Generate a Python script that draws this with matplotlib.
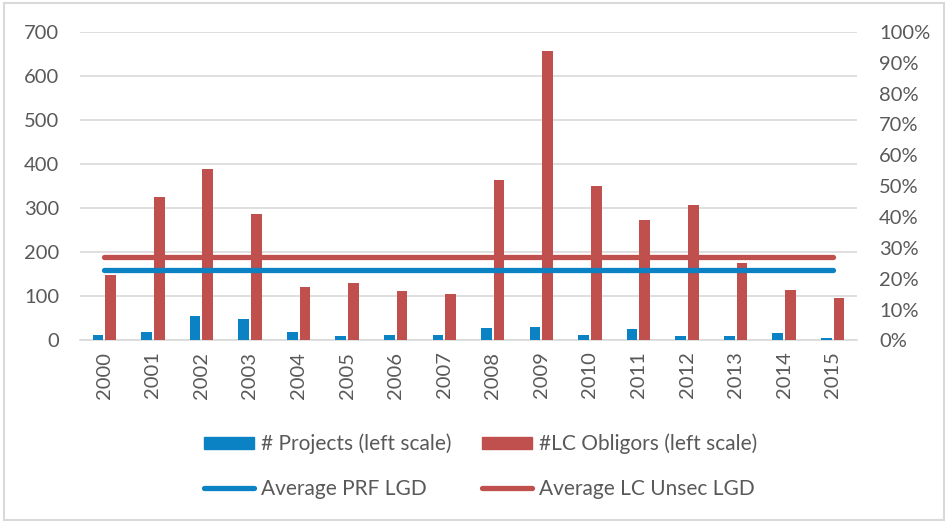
import numpy as np
import matplotlib
matplotlib.use("Agg")
import matplotlib.pyplot as plt
from matplotlib.patches import Patch, Rectangle
from matplotlib.lines import Line2D
from matplotlib.ticker import PercentFormatter

plt.rcParams['font.family'] = ['Lato', 'DejaVu Sans']

years = ["2000", "2001", "2002", "2003", "2004", "2005", "2006", "2007",
         "2008", "2009", "2010", "2011", "2012", "2013", "2014", "2015"]
projects = [13, 19, 56, 48, 19, 10, 13, 13, 28, 31, 13, 25, 10, 10, 16, 5]
lc_obligors = [148, 326, 389, 287, 122, 130, 113, 105, 364, 657, 350, 273, 307, 176, 115, 96]
avg_prf_lgd = 23.0      # %
avg_lc_unsec_lgd = 27.0  # %

blue = '#0B82C4'
red = '#C0504D'
grey_txt = '#595959'

fig = plt.figure(figsize=(9.48, 5.23), dpi=100)
ax1 = fig.add_axes([0.0844, 0.349, 0.8196, 0.590])

x = np.arange(len(years))
w = 0.22
ax1.bar(x - 0.13, projects, width=w, color=blue, zorder=3)
ax1.bar(x + 0.13, lc_obligors, width=w, color=red, zorder=3)
ax1.set_xlim(-0.5, len(years) - 0.5)
ax1.set_ylim(0, 700)
ax1.set_yticks(range(0, 701, 100))
ax1.yaxis.grid(True, color='#D9D9D9', linewidth=1.2, zorder=0)
ax1.set_axisbelow(True)
ax1.set_xticks(x)
ax1.set_xticklabels(years, rotation=90)

# right axis with the average lines
ax2 = ax1.twinx()
ax2.plot([x[0], x[-1]], [avg_lc_unsec_lgd] * 2, color=red, linewidth=3.8,
         solid_capstyle='round', zorder=4)
ax2.plot([x[0], x[-1]], [avg_prf_lgd] * 2, color=blue, linewidth=3.8,
         solid_capstyle='round', zorder=4)
ax2.set_ylim(0, 100)
ax2.set_yticks(range(0, 101, 10))
ax2.yaxis.set_major_formatter(PercentFormatter(decimals=0))

for ax in (ax1, ax2):
    for s in ax.spines.values():
        s.set_visible(False)
    ax.tick_params(length=0, labelsize=14.5, colors=grey_txt)
ax1.tick_params(axis='y', pad=15)
ax1.tick_params(axis='x', pad=8)
ax2.tick_params(axis='y', pad=16)
ax1.spines['bottom'].set_visible(True)
ax1.spines['bottom'].set_color('#D9D9D9')
ax1.spines['bottom'].set_linewidth(1.2)

# legend (two rows, two columns)
handles = [Patch(color=blue), Line2D([], [], color=blue, linewidth=3.8, solid_capstyle='round'),
           Patch(color=red), Line2D([], [], color=red, linewidth=3.8, solid_capstyle='round')]
labels = ["# Projects (left scale)", "Average PRF LGD",
          "#LC Obligors (left scale)", "Average LC Unsec LGD"]
leg = fig.legend(handles, labels, ncol=2, loc='center', bbox_to_anchor=(0.507, 0.108),
                 frameon=False, fontsize=15, handlelength=2.4, handleheight=0.55,
                 handletextpad=0.3, columnspacing=1.5, labelspacing=1.2)
for t in leg.get_texts():
    t.set_color(grey_txt)

fig.patches.append(Rectangle((0.004, 0.006), 0.992, 0.988, transform=fig.transFigure,
                             fill=False, edgecolor='#D9D9D9', linewidth=1.5))

fig.savefig("out.png", dpi=100)
